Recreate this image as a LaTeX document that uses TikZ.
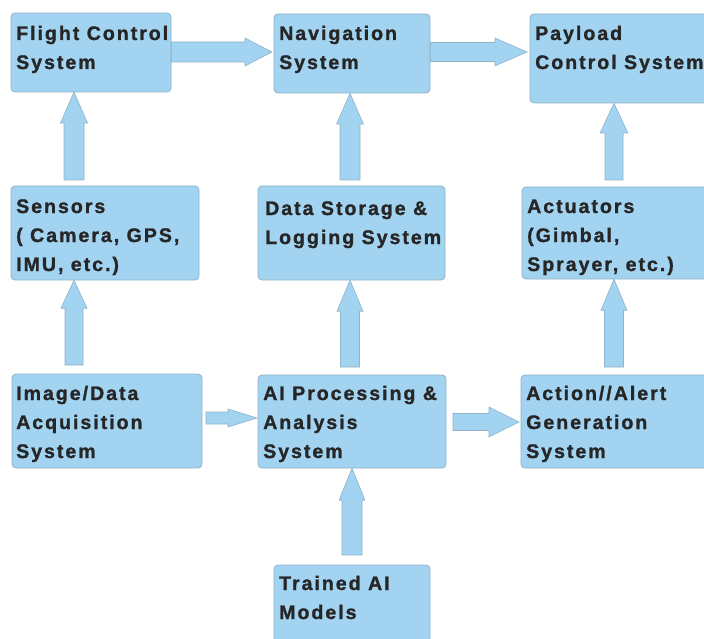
\documentclass[tikz,border=0pt]{standalone}
\usepackage{fontspec}
\setmainfont{Liberation Sans}
\newfontfamily\boxfont[LetterSpace=10, FakeBold=1.2]{Liberation Sans Bold}
\usetikzlibrary{calc}
\definecolor{boxfill}{HTML}{A2D3F1}
\definecolor{boxline}{HTML}{8FB3C8}
\definecolor{txtcol}{HTML}{262626}
\tikzset{
  box/.style={draw=boxline, fill=boxfill, line width=0.8pt, rounded corners=4pt, inner sep=0pt},
  txt/.style={anchor=base west, align=left, inner sep=0pt, text=txtcol,
    font=\boxfont\fontsize{19.6}{29}\selectfont},
  blk/.style n args={3}{fill=boxfill, draw=boxline, line width=0.6pt, line join=miter,
    to path={
      let \p1=(\tikztostart), \p2=(\tikztotarget),
          \n1={atan2(\y2-\y1,\x2-\x1)}, \n2={veclen(\x2-\x1,\y2-\y1)} in
      ($(\p1)+(\n1+90:#1)$) -- ($(\p1)+(\n1:{\n2-#3})+(\n1+90:#1)$)
      -- ($(\p1)+(\n1:{\n2-#3})+(\n1+90:#2)$) -- (\p2)
      -- ($(\p1)+(\n1:{\n2-#3})+(\n1-90:#2)$) -- ($(\p1)+(\n1:{\n2-#3})+(\n1-90:#1)$)
      -- ($(\p1)+(\n1-90:#1)$) -- cycle
    }}
}
\begin{document}
\begin{tikzpicture}[x=1pt,y=1pt]
\useasboundingbox (0,0) rectangle (704,-639);
% boxes
\path[box] (11,-13) rectangle (171,-92);
\node[inner sep=0pt, minimum width=160pt, minimum height=79pt] (fcs) at (91,-52.5) {};
\path[box] (274,-14) rectangle (430,-93);
\node[inner sep=0pt, minimum width=156pt, minimum height=79pt] (nav) at (352,-53.5) {};
\path[box] (530,-14) rectangle (716,-103);
\node[inner sep=0pt, minimum width=186pt, minimum height=89pt] (pay) at (623,-58.5) {};
\path[box] (11,-186) rectangle (199,-280);
\node[inner sep=0pt, minimum width=188pt, minimum height=94pt] (sen) at (105,-233) {};
\path[box] (258,-186) rectangle (445,-280);
\node[inner sep=0pt, minimum width=187pt, minimum height=94pt] (dat) at (351.5,-233) {};
\path[box] (522,-187) rectangle (716,-279);
\node[inner sep=0pt, minimum width=194pt, minimum height=92pt] (act) at (619,-233) {};
\path[box] (12,-374) rectangle (202,-468);
\node[inner sep=0pt, minimum width=190pt, minimum height=94pt] (img) at (107,-421) {};
\path[box] (258,-375) rectangle (446,-468);
\node[inner sep=0pt, minimum width=188pt, minimum height=93pt] (aip) at (352,-421.5) {};
\path[box] (521,-375) rectangle (716,-468);
\node[inner sep=0pt, minimum width=195pt, minimum height=93pt] (alr) at (618.5,-421.5) {};
\path[box] (274,-565) rectangle (430,-650);
\node[inner sep=0pt, minimum width=156pt, minimum height=85pt] (trn) at (352,-607.5) {};
% texts (anchored at the baseline of the last line)
\node[txt] (fcsT) at (16,-69) {Flight Control\\System};
\node[txt] (navT) at (279,-69) {Navigation\\System};
\node[txt] (payT) at (535,-69) {Payload\\Control System};
\node[txt] (senT) at (16,-271) {Sensors\\( Camera, GPS,\\IMU, etc.)};
\node[txt] (datT) at (265,-244) {Data Storage \&\\Logging System};
\node[txt] (actT) at (527,-271) {Actuators\\(Gimbal,\\Sprayer, etc.)};
\node[txt] (imgT) at (16,-458) {Image/Data\\Acquisition\\System};
\node[txt] (aipT) at (263,-458) {AI Processing \&\\Analysis\\System};
\node[txt] (alrT) at (526,-458) {Action//Alert\\Generation\\System};
\node[txt] (trnT) at (279,-619) {Trained AI\\Models};
% arrow end points
\coordinate (a1s) at (fcs.east |- 0,-52);  \coordinate (a1e) at (272,-52);
\coordinate (a2s) at (nav.east |- 0,-52);  \coordinate (a2e) at (527,-52);
\coordinate (a3s) at (74,-180);  \coordinate (a3e) at (74,-92);
\coordinate (a4s) at (350,-180); \coordinate (a4e) at (nav.south -| 350,0);
\coordinate (a5s) at (614,-180); \coordinate (a5e) at (pay.south -| 614,0);
\coordinate (a6s) at (74,-365);  \coordinate (a6e) at (sen.south -| 74,0);
\coordinate (a7s) at (350,-367); \coordinate (a7e) at (dat.south -| 350,0);
\coordinate (a8s) at (614,-367); \coordinate (a8e) at (act.south -| 614,0);
\coordinate (a9s) at (206,-418); \coordinate (a9e) at (257,-418);
\coordinate (a10s) at (453,-422); \coordinate (a10e) at (519,-422);
\coordinate (a11s) at (352,-555); \coordinate (a11e) at (aip.south -| 352,0);
% arrows
\draw[blk={10pt}{14pt}{27pt}] (a1s) to (a1e);
\draw[blk={9.5pt}{14pt}{32pt}] (a2s) to (a2e);
\draw[blk={10pt}{13.5pt}{31pt}] (a3s) to (a3e);
\draw[blk={10pt}{13.5pt}{31pt}] (a4s) to (a4e);
\draw[blk={9pt}{14pt}{30pt}] (a5s) to (a5e);
\draw[blk={9pt}{13pt}{28pt}] (a6s) to (a6e);
\draw[blk={9.5pt}{13pt}{31pt}] (a7s) to (a7e);
\draw[blk={9.5pt}{13pt}{31pt}] (a8s) to (a8e);
\draw[blk={6pt}{9pt}{29pt}] (a9s) to (a9e);
\draw[blk={8.5pt}{15pt}{30pt}] (a10s) to (a10e);
\draw[blk={10pt}{13pt}{32pt}] (a11s) to (a11e);
\end{tikzpicture}
\end{document}
